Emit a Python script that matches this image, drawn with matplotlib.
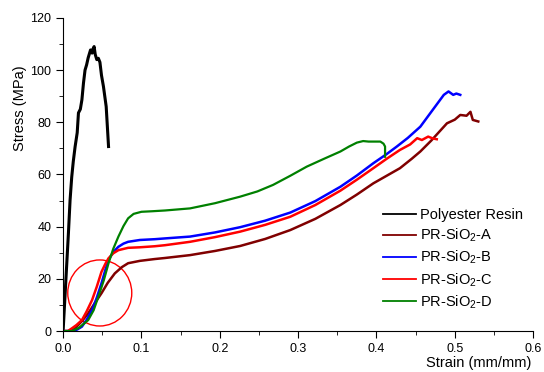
import matplotlib.pyplot as plt
from matplotlib.patches import Ellipse
import numpy as np

plt.rcParams['font.family'] = ['Liberation Sans', 'DejaVu Sans']
plt.rcParams['mathtext.default'] = 'regular'

# 数据 (strain mm/mm, stress MPa)
resin_x = [0.0, 0.0068, 0.0089, 0.011, 0.013, 0.0153, 0.018, 0.0196, 0.022, 0.024, 0.026,
           0.028, 0.030, 0.032, 0.035, 0.037, 0.038, 0.0396, 0.041, 0.043, 0.045, 0.047,
           0.049, 0.0515, 0.055, 0.058]
resin_y = [0.0, 37.6, 50.2, 59.0, 65.0, 70.6, 76.0, 83.6, 85.0, 88.6, 95.0,
           100.0, 102.0, 104.7, 107.7, 106.5, 108.0, 109.0, 106.0, 104.0, 104.5, 103.0,
           98.0, 93.7, 86.0, 70.7]

a_x = [0.0, 0.008, 0.015, 0.024, 0.032, 0.040, 0.049, 0.057, 0.066, 0.075, 0.083, 0.098,
       0.117, 0.13, 0.162, 0.194, 0.226, 0.258, 0.290, 0.322, 0.354, 0.375, 0.396, 0.413,
       0.430, 0.445, 0.456, 0.47, 0.49, 0.50, 0.507, 0.515, 0.52, 0.523, 0.53]
a_y = [0.0, 0.0, 1.0, 3.8, 6.8, 10.5, 14.5, 18.5, 22.1, 24.5, 26.0, 26.9,
       27.6, 28.0, 29.1, 30.7, 32.6, 35.3, 38.7, 43.0, 48.3, 52.3, 56.6, 59.5,
       62.4, 66.0, 68.8, 73.0, 79.6, 81.0, 82.8, 82.5, 84.0, 80.9, 80.3]

b_x = [0.0, 0.012, 0.018, 0.024, 0.030, 0.037, 0.043, 0.049, 0.054, 0.058, 0.064, 0.0706,
       0.077, 0.083, 0.098, 0.117, 0.13, 0.162, 0.194, 0.226, 0.258, 0.290, 0.322, 0.354,
       0.375, 0.396, 0.413, 0.426, 0.44, 0.456, 0.47, 0.486, 0.492, 0.498, 0.502, 0.507]
b_y = [0.0, 0.0, 0.6, 1.7, 4.3, 8.0, 12.8, 18.3, 23.5, 27.2, 30.3, 32.3,
       33.5, 34.2, 34.9, 35.2, 35.5, 36.2, 37.8, 39.8, 42.3, 45.4, 49.8, 55.3,
       59.6, 64.3, 67.8, 70.7, 74.0, 78.3, 84.0, 90.5, 91.8, 90.5, 91.0, 90.5]

c_x = [0.0, 0.006, 0.011, 0.017, 0.024, 0.030, 0.037, 0.043, 0.049, 0.054, 0.058, 0.064,
       0.0706, 0.083, 0.098, 0.117, 0.13, 0.162, 0.194, 0.226, 0.258, 0.290, 0.322, 0.354,
       0.375, 0.396, 0.413, 0.430, 0.443, 0.452, 0.458, 0.466, 0.472, 0.477]
c_y = [0.0, 0.0, 1.0, 2.3, 4.2, 7.5, 11.9, 17.0, 22.7, 25.8, 27.9, 29.8,
       31.0, 31.9, 32.1, 32.5, 32.9, 34.2, 36.0, 38.1, 40.7, 43.8, 48.3, 53.8,
       58.0, 62.4, 66.0, 69.4, 71.5, 73.9, 73.2, 74.5, 73.8, 73.5]

d_x = [0.0, 0.011, 0.020, 0.032, 0.039, 0.045, 0.052, 0.058, 0.064, 0.0706, 0.077, 0.083,
       0.090, 0.100, 0.113, 0.13, 0.162, 0.194, 0.226, 0.248, 0.268, 0.290, 0.311, 0.333,
       0.354, 0.365, 0.375, 0.383, 0.390, 0.405, 0.409, 0.411, 0.411]
d_y = [0.0, 0.0, 1.2, 4.2, 8.0, 13.2, 19.5, 26.0, 31.5, 36.2, 40.2, 43.2,
       44.9, 45.7, 45.9, 46.2, 47.0, 49.0, 51.5, 53.5, 56.0, 59.5, 63.0, 66.0,
       68.8, 70.7, 72.2, 72.8, 72.6, 72.6, 71.8, 70.7, 66.8]

fig = plt.figure(figsize=(5.44, 3.72), dpi=100)
ax = fig.add_axes([0.116, 0.110, 0.864, 0.842])

ax.plot(resin_x, resin_y, color='black', lw=2.2, label='Polyester Resin')
ax.plot(a_x, a_y, color='#800000', lw=1.8, label='PR-SiO$_2$-A')
ax.plot(b_x, b_y, color='#0000FF', lw=1.8, label='PR-SiO$_2$-B')
ax.plot(c_x, c_y, color='#FF0000', lw=1.8, label='PR-SiO$_2$-C')
ax.plot(d_x, d_y, color='#008000', lw=1.6, label='PR-SiO$_2$-D')

# 红色圆圈
ax.add_patch(Ellipse((0.0468, 14.6), 0.0817, 25.3, fill=False, edgecolor='red', lw=1.0))

ax.set_xlim(0, 0.6)
ax.set_ylim(0, 120)
ax.set_xticks(np.arange(0, 0.61, 0.1))
ax.set_xticks(np.arange(0.05, 0.6, 0.1), minor=True)
ax.set_yticks(np.arange(0, 121, 20))
ax.set_yticks(np.arange(10, 120, 20), minor=True)
ax.set_xticklabels(['0.0', '0.1', '0.2', '0.3', '0.4', '0.5', '0.6'])
ax.tick_params(which='major', direction='out', length=5, labelsize=9)
ax.tick_params(which='minor', direction='out', length=3)
ax.spines['top'].set_visible(False)
ax.spines['right'].set_visible(False)

ax.set_xlabel('Strain (mm/mm)', fontsize=10.5)
ax.xaxis.set_label_coords(0.884, -0.08)
ax.set_ylabel('Stress (MPa)', fontsize=10.5)
ax.yaxis.set_label_coords(-0.077, 0.712)

leg = ax.legend(loc='upper left', bbox_to_anchor=(0.668, 0.412), borderaxespad=0,
                frameon=False, fontsize=10.5, handlelength=2.3, handletextpad=0.27,
                labelspacing=0.33)
for line in leg.get_lines():
    line.set_linewidth(1.3)

plt.savefig('out.png', dpi=100)
